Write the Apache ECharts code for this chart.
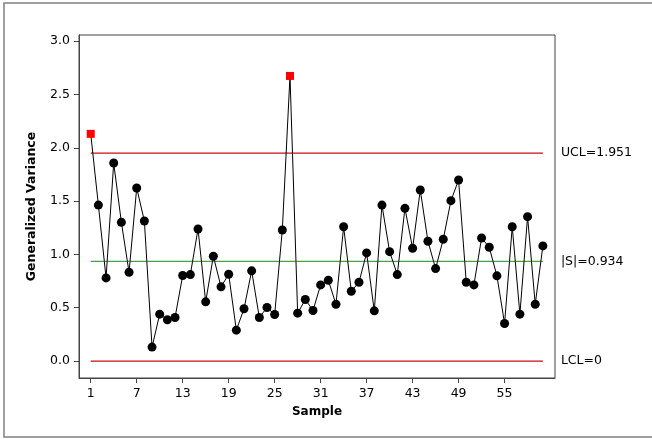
<!DOCTYPE html>
<html>
<head>
<meta charset="utf-8">
<script src="https://cdn.jsdelivr.net/npm/echarts@6/dist/echarts.min.js"></script>
<style>
html,body{margin:0;padding:0;background:#fff;}
#chart{width:652px;height:439px;}
</style>
</head>
<body>
<div id="chart"></div>
<script>
const samples = [1,2,3,4,5,6,7,8,9,10,11,12,13,14,15,16,17,18,19,20,21,22,23,24,25,26,27,28,29,30,31,32,33,34,35,36,37,38,39,40,41,42,43,44,45,46,47,48,49,50,51,52,53,54,55,56,57,58,59,60];
const variance = [2.131,1.463,0.780,1.857,1.301,0.833,1.623,1.314,0.131,0.440,
  0.387,0.408,0.802,0.811,1.239,0.555,0.983,0.696,0.814,0.290,
  0.490,0.846,0.408,0.502,0.437,1.229,2.674,0.449,0.577,0.474,
  0.714,0.758,0.533,1.260,0.655,0.739,1.014,0.471,1.463,1.026,
  0.811,1.432,1.058,1.604,1.124,0.867,1.142,1.504,1.698,0.739,
  0.714,1.154,1.067,0.799,0.352,1.260,0.440,1.354,0.533,1.080];
const xTickValues = [1,7,13,19,25,31,37,43,49,55];
const yTickValues = [0,0.5,1.0,1.5,2.0,2.5,3.0];
const UCL = 1.951;
const CENTER = 0.934;
const LCL = 0;

const FONT = 'DejaVu Sans';
const chart = echarts.init(document.getElementById('chart'), null, {renderer:'canvas'});

const pts = samples.map((s, i) => {
  const v = variance[i];
  const out = v > UCL || v < LCL;
  return out ? {value:[s, v], symbol:'rect', symbolSize:8, itemStyle:{color:'#ff0000'}}
             : {value:[s, v]};
});

const first = samples[0], last = samples[samples.length-1];
function limitSeries(name, y, txt, color){
  return {
    name:name, type:'line', silent:true, symbol:'none', z:2,
    color:color,
    data:[[first, y],[last, y]],
    lineStyle:{color:color, width:1.2, opacity:1},
    itemStyle:{color:color},
    emphasis:{disabled:true},
    endLabel:{show:true, distance:18, formatter:txt, color:'#000',
              fontFamily:FONT, fontSize:12.5}
  };
}

chart.setOption({
  animation:false,
  backgroundColor:'#fff',
  graphic:[{type:'rect', shape:{x:4, y:3, width:660, height:434},
            style:{fill:null, stroke:'#808080', lineWidth:1.5}, silent:true}],
  grid:{left:79, right:97, top:35, bottom:61, show:true, borderColor:'#444', borderWidth:1, backgroundColor:'#fff'},
  xAxis:{
    type:'value', min:-0.53, max:61.58,
    name:'Sample', nameLocation:'middle', nameGap:28,
    nameTextStyle:{fontFamily:FONT, fontSize:12, fontWeight:'bold', color:'#000'},
    axisLine:{show:true, onZero:false, lineStyle:{color:'#444', width:1}},
    axisTick:{show:true, length:5, customValues:xTickValues, lineStyle:{color:'#444'}},
    axisLabel:{customValues:xTickValues, margin:9, fontFamily:FONT, fontSize:12.5, color:'#000'},
    splitLine:{show:false}
  },
  yAxis:{
    type:'value', min:-0.159, max:3.058,
    name:'Generalized Variance', nameLocation:'middle', nameGap:41, nameRotate:90,
    nameTextStyle:{fontFamily:FONT, fontSize:12.5, fontWeight:'bold', color:'#000'},
    axisLine:{show:true, onZero:false, lineStyle:{color:'#444', width:1}},
    axisTick:{show:true, length:5, customValues:yTickValues, lineStyle:{color:'#444'}},
    axisLabel:{customValues:yTickValues, margin:9, fontFamily:FONT, fontSize:12.5, color:'#000',
               formatter:v => v.toFixed(1)},
    splitLine:{show:false}
  },
  series:[
    limitSeries('UCL', UCL, 'UCL=' + UCL, '#e80000'),
    limitSeries('Center', CENTER, '|S|=' + CENTER, '#00d000'),
    limitSeries('LCL', LCL, 'LCL=' + LCL, '#e80000'),
    {
      name:'Variance',
      type:'line',
      data:pts,
      symbol:'circle', symbolSize:9,
      itemStyle:{color:'#000'},
      lineStyle:{color:'#000', width:1},
      z:3
    }
  ]
});
</script>
</body>
</html>
